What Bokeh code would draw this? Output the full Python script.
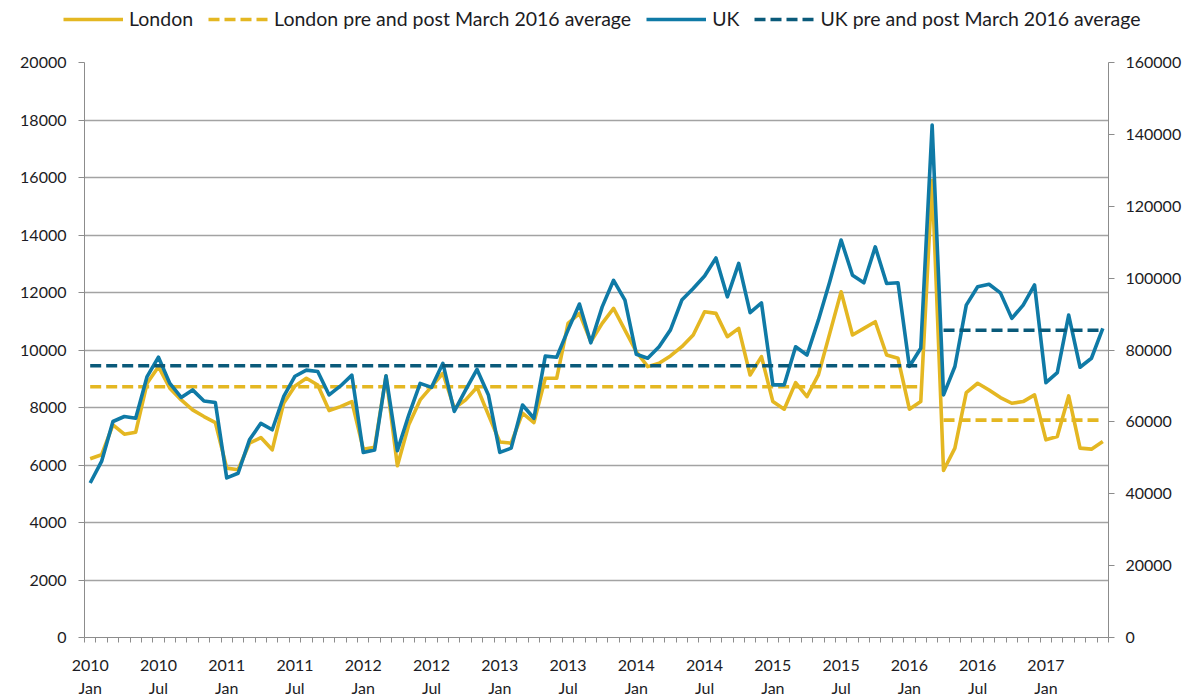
from bokeh.plotting import figure
from bokeh.layouts import column, row
from bokeh.models import (Range1d, LinearAxis, FixedTicker, Legend, LegendItem,
                          ColumnDataSource)
from bokeh.embed import file_html
from bokeh.resources import INLINE

# ---- data (Jan 2010 .. Jun 2017, monthly) ----
tick_labels = ["2010\nJan", "2010\nJul", "2011\nJan", "2011\nJul", "2012\nJan",
               "2012\nJul", "2013\nJan", "2013\nJul", "2014\nJan", "2014\nJul",
               "2015\nJan", "2015\nJul", "2016\nJan", "2016\nJul", "2017\nJan"]
tick_positions = [0, 6, 12, 18, 24, 30, 36, 42, 48, 54, 60, 66, 72, 78, 84]

london = [6215, 6354, 7396, 7072, 7141, 8843, 9421, 8669, 8264, 7917, 7685, 7477,
          5891, 5833, 6759, 6956, 6528, 8148, 8750, 9016, 8785, 7894, 8032, 8206,
          6551, 6620, 9097, 5972, 7396, 8264, 8727, 9190, 7975, 8264, 8704, 7743,
          6800, 6759, 7801, 7477, 9016, 9016, 10926, 11273, 10289, 10926, 11447, 10694,
          9942, 9421, 9537, 9792, 10116, 10521, 11331, 11273, 10463, 10752, 9132, 9769,
          8206, 7940, 8866, 8380, 9132, 10579, 12025, 10521, 10752, 10984, 9826, 9711,
          7940, 8206, 15900, 5810, 6586, 8519, 8843, 8611, 8345, 8148, 8206, 8438,
          6875, 6991, 8403, 6586, 6551, 6817]

uk = [43000, 49000, 60100, 61500, 61000, 72600, 78000, 70700, 66800, 68900, 65800, 65400,
      44400, 45700, 55000, 59600, 57800, 67000, 72700, 74400, 74000, 67500, 70000, 73000,
      51500, 52200, 72800, 52000, 61900, 70700, 69600, 76300, 62900, 68900, 74600, 67500,
      51500, 52700, 64700, 61000, 78300, 78000, 85600, 92800, 82000, 92000, 99400, 93900,
      78800, 77700, 80900, 85600, 93900, 97100, 100600, 105600, 94800, 104100, 90400, 93100,
      70300, 70300, 80900, 78600, 88300, 99000, 110600, 100800, 98700, 108700, 98500, 98700,
      75400, 80500, 142600, 67500, 75400, 92500, 97600, 98300, 95900, 88800, 92500, 98100,
      70900, 73700, 89700, 75200, 77700, 86000]

london_avg_pre = 8720
london_avg_post = 7560
uk_avg_pre = 75600
uk_avg_post = 85500
pre_months = (0, 73)    # Jan 2010 .. Feb 2016
post_months = (75, 89)  # Apr 2016 .. Jun 2017

series_labels = ["London", "London pre and post March 2016 average",
                 "UK", "UK pre and post March 2016 average"]

# ---- styling ----
FONT = "Lato"
C_LON = "#E4B722"
C_UK = "#0F7AA6"
C_UK_AVG = "#0A5A7A"
TXT = "#1c1c24"
AXIS = "#8c8c8c"
LW = 3.6
DASH = "11 5"

W = 1190
LEG_H = 40
n = len(london)
xs = list(range(n))

p = figure(width=W, height=700 - LEG_H, output_backend="svg", toolbar_location=None,
           x_range=Range1d(-0.5, n - 0.5), y_range=Range1d(0, 20000),
           min_border_left=84, min_border_right=82, min_border_top=22,
           min_border_bottom=63)
p.extra_y_ranges = {"right": Range1d(0, 160000)}
p.outline_line_color = None
p.background_fill_color = "white"
p.border_fill_color = "white"

# axes
xa = p.xaxis[0]
xa.ticker = FixedTicker(ticks=tick_positions,
                        minor_ticks=[i - 0.5 for i in range(n + 1)])
xa.major_label_overrides = {t: l for t, l in zip(tick_positions, tick_labels)}
xa.major_tick_out = 0
xa.major_tick_in = 0
xa.minor_tick_out = 5
xa.minor_tick_in = 0
xa.minor_tick_line_color = AXIS
xa.axis_line_color = AXIS
xa.major_label_standoff = 12
xa.major_label_text_line_height = 1.22

ya = p.yaxis[0]
ya.ticker = FixedTicker(ticks=list(range(0, 20001, 2000)))
ya.major_tick_out = 6
ya.major_tick_in = 0
ya.minor_tick_out = 0
ya.minor_tick_in = 0
ya.axis_line_color = AXIS
ya.major_tick_line_color = AXIS
ya.major_label_standoff = 12
ya.formatter.use_scientific = False

ra = LinearAxis(y_range_name="right",
                ticker=FixedTicker(ticks=list(range(0, 160001, 20000))))
ra.major_tick_out = 6
ra.major_tick_in = 0
ra.minor_tick_out = 0
ra.minor_tick_in = 0
ra.axis_line_color = AXIS
ra.major_tick_line_color = AXIS
ra.major_label_standoff = 11
ra.formatter.use_scientific = False
p.add_layout(ra, "right")

for ax in (xa, ya, ra):
    ax.major_label_text_font = FONT
    ax.major_label_text_font_size = "16px"
    ax.major_label_text_color = TXT

p.xgrid.visible = False
p.ygrid.grid_line_color = "#a3a3a3"
p.ygrid.grid_line_width = 1.3
p.ygrid.ticker = ya.ticker

# series
src = ColumnDataSource(dict(x=xs, london=london, uk=uk))
pre_x = [pre_months[0], pre_months[1]]
post_x = [post_months[0], post_months[1]]
p.line("x", "london", source=src, line_color=C_LON, line_width=LW, line_join="round")
p.line(pre_x, [london_avg_pre] * 2, line_color=C_LON, line_width=LW, line_dash=DASH)
p.line(post_x, [london_avg_post] * 2, line_color=C_LON, line_width=LW, line_dash=DASH)
p.line("x", "uk", source=src, y_range_name="right", line_color=C_UK,
       line_width=LW, line_join="round")
p.line(pre_x, [uk_avg_pre] * 2, y_range_name="right", line_color=C_UK_AVG,
       line_width=LW, line_dash=DASH)
p.line(post_x, [uk_avg_post] * 2, y_range_name="right", line_color=C_UK_AVG,
       line_width=LW, line_dash=DASH)

# ---- legend strip above the chart ----
lf = figure(width=W, height=LEG_H, output_backend="svg", toolbar_location=None,
            x_range=Range1d(0, 1), y_range=Range1d(0, 1),
            x_axis_location=None, y_axis_location=None, min_border=0)
lf.outline_line_color = None
lf.grid.visible = False
styles = [dict(line_color=C_LON), dict(line_color=C_LON, line_dash=DASH),
          dict(line_color=C_UK), dict(line_color=C_UK_AVG, line_dash=DASH)]
nan = float("nan")
items = []
for lab, st in zip(series_labels, styles):
    r = lf.line(x=[nan, nan], y=[nan, nan], line_width=LW, **st)
    items.append(LegendItem(label=lab, renderers=[r]))
legend = Legend(items=items, orientation="horizontal", location=(63, 10))
legend.label_text_font = FONT
legend.label_text_font_size = "19.5px"
legend.label_text_color = TXT
legend.glyph_width = 60
legend.glyph_height = 20
legend.label_standoff = 6
legend.spacing = 15
legend.padding = 0
legend.margin = 0
legend.border_line_color = None
legend.background_fill_alpha = 0
lf.add_layout(legend, "center")

layout = column(row(lf), p, spacing=0)
open("out.html", "w").write(file_html(layout, INLINE))
